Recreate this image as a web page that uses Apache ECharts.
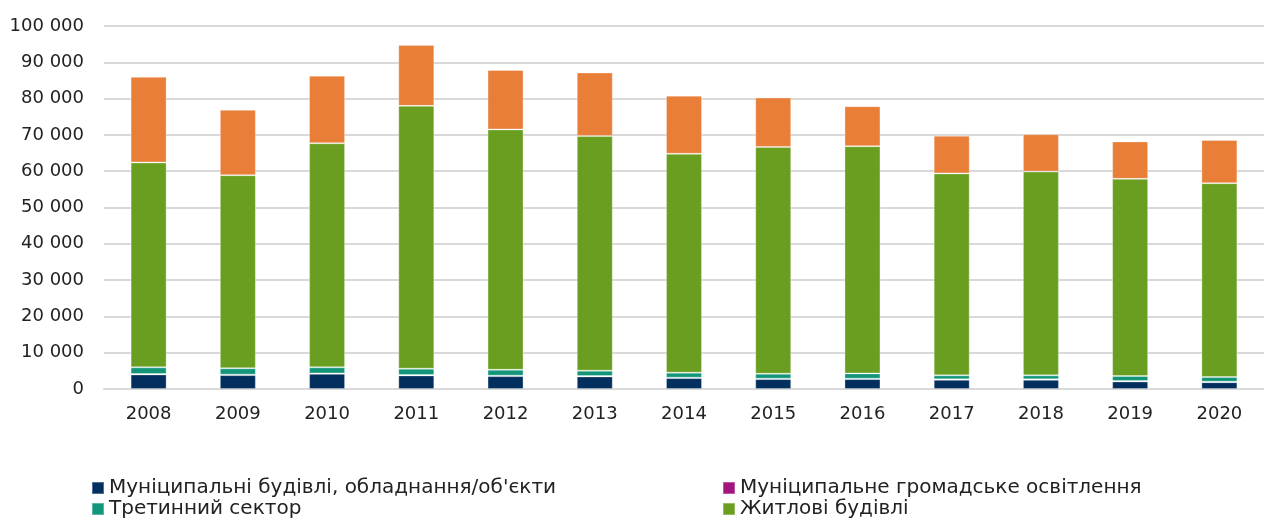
<!DOCTYPE html>
<html>
<head>
<meta charset="utf-8">
<script src="https://cdn.jsdelivr.net/npm/echarts@6/dist/echarts.min.js"></script>
<style>
  html, body { margin: 0; padding: 0; background: #fff; }
  #chart { width: 1264px; height: 520px; }
</style>
</head>
<body>
<div id="chart"></div>
<script>
// Energy consumption by sector, 2008–2020 (stacked)
const years = ['2008','2009','2010','2011','2012','2013','2014','2015','2016','2017','2018','2019','2020'];

const municipalBuildings = [4010, 3830, 4180, 3740, 3550, 3460, 3000, 2730, 2730, 2540, 2540, 2080, 1880];
const publicLighting     = [120, 120, 120, 120, 120, 120, 120, 120, 120, 120, 120, 120, 120];
const tertiarySector     = [1840, 1750, 1670, 1740, 1630, 1470, 1380, 1350, 1450, 1100, 1100, 1380, 1300];
const residential        = [56430, 53200, 61730, 72400, 66200, 64650, 60300, 62500, 62600, 55640, 56140, 54320, 53400];
const transport          = [23600, 18000, 18600, 16800, 16400, 17500, 16000, 13600, 11000, 10400, 10300, 10300, 11900];

const yTicks = { min: 0, max: 100000, interval: 10000 };

const names = [
  'Муніципальні будівлі, обладнання/об\'єкти',
  'Муніципальне громадське освітлення',
  'Третинний сектор',
  'Житлові будівлі',
  'Транспорт'
];
const colors = ['#032F5F', '#A3147E', '#13957A', '#6A9E20', '#E87E38'];
const values = [municipalBuildings, publicLighting, tertiarySector, residential, transport];

const FONT = '"DejaVu Sans", sans-serif';

const chart = echarts.init(document.getElementById('chart'), null, { renderer: 'canvas' });

const legendText = { fontSize: 20, color: '#222', fontFamily: FONT };

// two-column legend; one component per entry so each sits on its own row
function legendEntry(name, left, top) {
  return {
    data: [name], orient: 'horizontal', left: left, top: top, padding: 0,
    itemWidth: 12, itemHeight: 12, itemGap: 4,
    textStyle: legendText, icon: 'rect'
  };
}

chart.setOption({
  animation: false,
  color: colors,
  grid: { left: 104, right: 0, top: 26, bottom: 131, containLabel: false },
  legend: [
    legendEntry(names[0], 91, 478),
    legendEntry(names[2], 91, 499),
    legendEntry(names[1], 722, 478),
    legendEntry(names[3], 722, 499)
  ],
  xAxis: {
    type: 'category',
    data: years,
    axisTick: { show: false },
    axisLine: { show: true, lineStyle: { color: '#D9D9D9', width: 2 } },
    axisLabel: { fontSize: 18, color: '#222', fontFamily: FONT, margin: 16 }
  },
  yAxis: {
    type: 'value',
    min: yTicks.min, max: yTicks.max, interval: yTicks.interval,
    axisLine: { show: false },
    axisTick: { show: false },
    splitLine: { lineStyle: { color: '#D9D9D9', width: 2 } },
    axisLabel: {
      fontSize: 18, color: '#222', fontFamily: FONT, margin: 20,
      formatter: v => String(v).replace(/\B(?=(\d{3})+(?!\d))/g, ' ')
    }
  },
  series: names.map((n, i) => ({
    name: n,
    type: 'bar',
    stack: 'total',
    barWidth: 36,
    data: values[i],
    itemStyle: { color: colors[i], borderColor: 'rgba(255,255,255,0.3)', borderWidth: 1 }
  }))
});
</script>
</body>
</html>
